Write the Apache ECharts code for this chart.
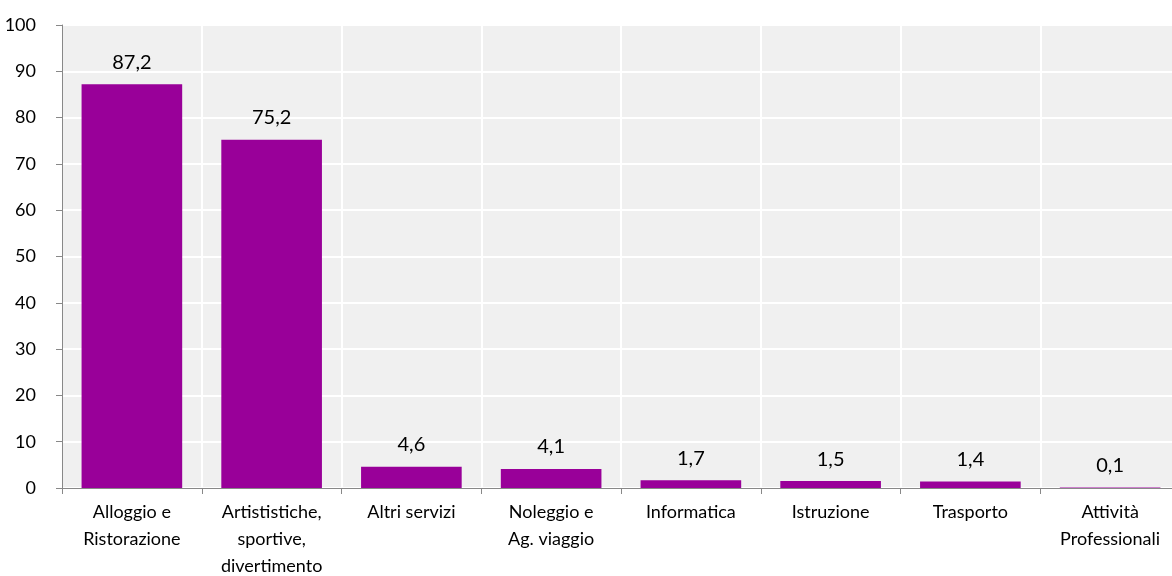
<!DOCTYPE html>
<html><head><meta charset="utf-8">
<script src="https://cdn.jsdelivr.net/npm/echarts@6/dist/echarts.min.js"></script>
<style>html,body{margin:0;padding:0;background:#fff;overflow:hidden;width:1172px;height:576px}#c{width:1180px;height:576px}</style>
</head><body><div id="c"></div>
<script>
var categories = ["Alloggio e\nRistorazione", "Artististiche,\nsportive,\ndivertimento", "Altri servizi", "Noleggio e\nAg. viaggio", "Informatica", "Istruzione", "Trasporto", "Attività\nProfessionali"];
var values = [87.2, 75.2, 4.6, 4.1, 1.7, 1.5, 1.4, 0.1];
var yTicks = [0, 10, 20, 30, 40, 50, 60, 70, 80, 90, 100];
var font = "Lato, 'Open Sans', sans-serif";
var chart = echarts.init(document.getElementById('c'));
chart.setOption({
  animation: false,
  grid: {left: 62, top: 25, bottom: 88, right: 0, outerBoundsMode: 'none', containLabel: false, show: true, backgroundColor: '#f0f0f0', borderWidth: 0},
  xAxis: {
    type: 'category', data: categories,
    axisLine: {lineStyle: {color: '#888', width: 1}},
    axisTick: {show: true, length: 6, lineStyle: {color: '#888'}},
    splitLine: {show: true, lineStyle: {color: '#fff', width: 2}},
    axisLabel: {color: '#000', fontSize: 18, fontFamily: font, lineHeight: 27, margin: 11, interval: 0}
  },
  yAxis: {
    type: 'value', min: yTicks[0], max: yTicks[yTicks.length - 1], interval: 10,
    axisLine: {show: true, lineStyle: {color: '#888', width: 1}},
    axisTick: {show: true, length: 6, lineStyle: {color: '#888'}},
    splitLine: {show: true, lineStyle: {color: '#fff', width: 2}},
    axisLabel: {color: '#000', fontSize: 18, fontFamily: font, margin: 26}
  },
  series: [{
    type: 'bar', data: values, barCategoryGap: '28%',
    itemStyle: {color: '#990099'},
    label: {show: true, position: 'top', distance: 12, color: '#000', fontSize: 20, fontFamily: font,
      formatter: function (p) { return String(p.value).replace('.', ','); }}
  }]
});
</script></body></html>
